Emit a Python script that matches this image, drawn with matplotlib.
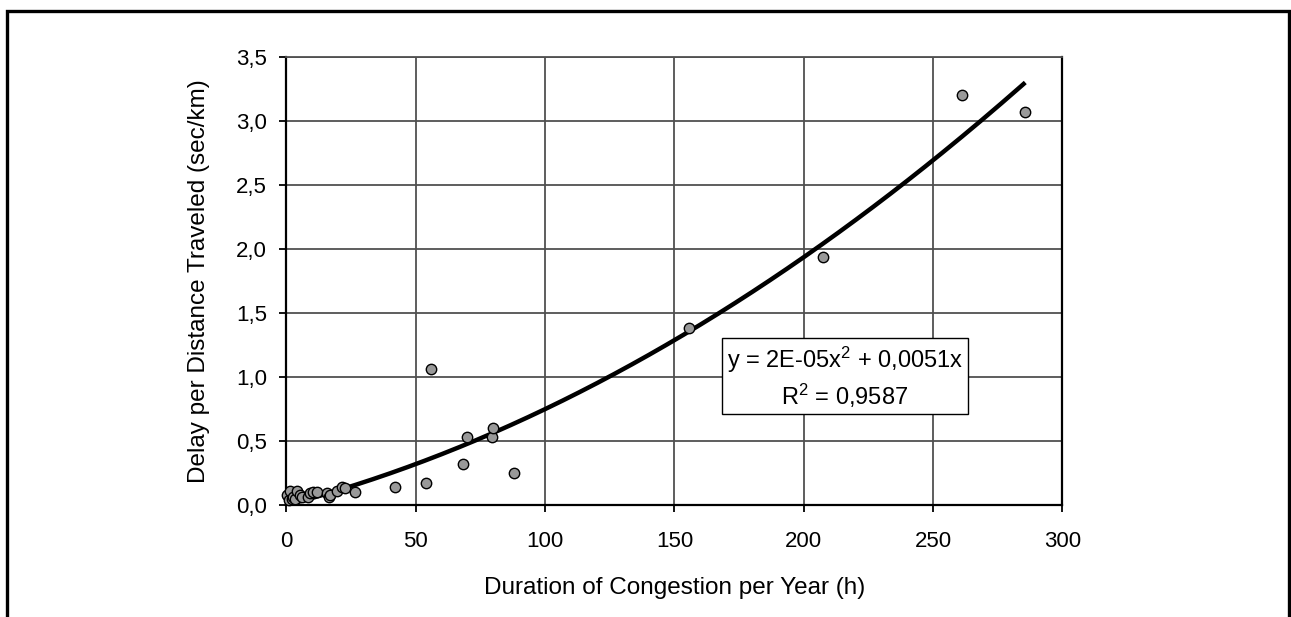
import numpy as np
import matplotlib
matplotlib.use("Agg")
import matplotlib.pyplot as plt
from matplotlib.patches import Rectangle

# style: Excel-like look
plt.rcParams["font.family"] = ["Liberation Sans", "DejaVu Sans"]
plt.rcParams["mathtext.fontset"] = "custom"
plt.rcParams["mathtext.rm"] = "Liberation Sans"
plt.rcParams["mathtext.it"] = "Liberation Sans:italic"

# data
duration_h = [0.4, 1.0, 1.4, 2.2, 2.7, 3.5, 4.2, 5.3, 6.0, 8.5, 9.1, 10.4, 12.0,
              15.6, 16.4, 16.9, 19.5, 21.4, 22.7, 26.5,
              42.0, 53.8, 56.0, 68.1, 69.7, 79.6, 79.8, 88.0,
              155.5, 207.5, 261.0, 285.5]
delay_sec_km = [0.08, 0.04, 0.11, 0.05, 0.065, 0.05, 0.11, 0.08, 0.06, 0.06, 0.09, 0.10, 0.10,
                0.095, 0.06, 0.075, 0.11, 0.14, 0.13, 0.10,
                0.14, 0.17, 1.06, 0.32, 0.53, 0.53, 0.60, 0.25,
                1.38, 1.94, 3.20, 3.07]

# trend line y = a*x^2 + b*x as drawn
trend_a = 2.19e-5
trend_b = 0.0053
trend_xmax = 285
eq_text = "y = 2E-05x$^{\\mathrm{2}}$ + 0,0051x\nR$^{\\mathrm{2}}$ = 0,9587"

x_ticks = [0, 50, 100, 150, 200, 250, 300]
y_ticks = [0.0, 0.5, 1.0, 1.5, 2.0, 2.5, 3.0, 3.5]

W, H = 1291, 617
fig = plt.figure(figsize=(W / 100, H / 100), dpi=100)
ax = fig.add_axes([286.4 / W, 1 - 505 / H, 776 / W, 448 / H])

grid_col = "#505050"
ax.set_xlim(0, 300)
ax.set_ylim(0, 3.5)
ax.set_xticks(x_ticks)
ax.set_yticks(y_ticks)
ax.set_xticklabels([str(t) for t in x_ticks])
ax.set_yticklabels([f"{t:.1f}".replace(".", ",") for t in y_ticks])
ax.grid(True, color=grid_col, linewidth=1.3)
ax.set_axisbelow(True)
for s in ["left", "bottom", "right"]:
    ax.spines[s].set_color("black")
    ax.spines[s].set_linewidth(1.6)
ax.spines["top"].set_color(grid_col)
ax.spines["top"].set_linewidth(1.3)
ax.tick_params(axis="both", direction="out", length=5, width=1.3, labelsize=16)
ax.tick_params(axis="x", pad=14)
ax.tick_params(axis="y", pad=9)

xx = np.linspace(0, trend_xmax, 300)
ax.plot(xx, trend_a * xx**2 + trend_b * xx, color="black", linewidth=3.2, zorder=2)
ax.scatter(duration_h, delay_sec_km, s=56, facecolor="#999999", edgecolor="black",
           linewidth=1.0, zorder=3, clip_on=False)

ax.text(215.9, 1.0, eq_text, fontsize=17, ha="center", va="center", linespacing=1.3,
        bbox=dict(boxstyle="square,pad=0.2", facecolor="white", edgecolor="black", linewidth=1),
        zorder=4)

ax.set_xlabel("Duration of Congestion per Year (h)", fontsize=17.5)
ax.set_ylabel("Delay per Distance Traveled (sec/km)", fontsize=17.5)
ax.xaxis.set_label_coords(0.5, -0.16)
ax.yaxis.set_label_coords(-0.099, 0.5)

# outer frame (open at bottom, as cropped)
fig.patches.append(Rectangle((7 / W, -0.1), (1288.5 - 7) / W, 1.1 - 10.5 / H,
                             transform=fig.transFigure, fill=False,
                             edgecolor="black", linewidth=2.4))

fig.savefig("out.png", dpi=100)
